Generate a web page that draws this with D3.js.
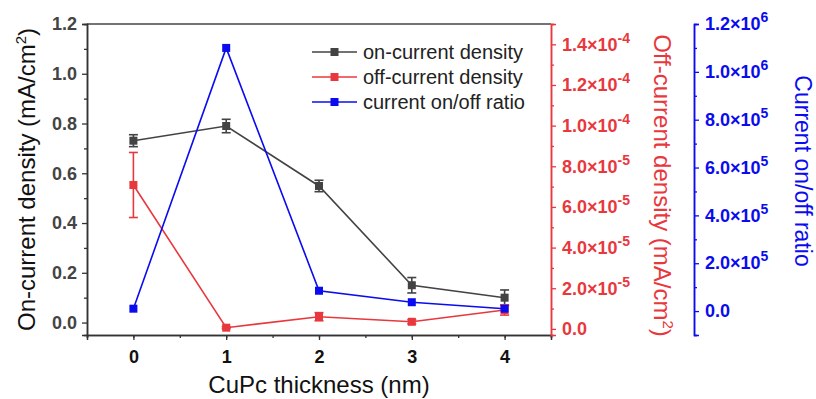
<!DOCTYPE html>
<html><head><meta charset="utf-8">
<script src="https://cdn.jsdelivr.net/npm/d3@7"></script>
<style>body{margin:0;background:#fff}svg{display:block}text{font-family:"Liberation Sans",Arial,sans-serif}</style>
</head><body><svg id="c" width="816" height="399"></svg>
<script>
const thickness = [0, 1, 2, 3, 4];
const onCurrent = [0.731, 0.790, 0.549, 0.150, 0.100];
const onErr = [0.024, 0.027, 0.023, 0.031, 0.031];
const offCurrent = [7.08e-5, 0.6e-6, 6.0e-6, 3.5e-6, 9.3e-6];
const offErr = [1.6e-5, 0.5e-6, 2.0e-6, 1.0e-6, 2.5e-6];
const ratio = [1.0e4, 1.1e6, 8.5e4, 3.7e4, 1.0e4];
const xTicks = [0, 1, 2, 3, 4];
const leftTicks = [0, 0.2, 0.4, 0.6, 0.8, 1.0, 1.2];
const redTicks = [0, 2e-5, 4e-5, 6e-5, 8e-5, 1e-4, 1.2e-4, 1.4e-4];
const blueTicks = [0, 2e5, 4e5, 6e5, 8e5, 1e6, 1.2e6];
const legendLabels = ["on-current density", "off-current density", "current on/off ratio"];

const C_ON = "#434343", C_OFF = "#e8383d", C_RATIO = "#0b0bf0";
const L = 87, R = 551, T = 24, B = 335, BLUE_X = 694;
const svg = d3.select("#c");
const x = d3.scaleLinear().domain([-0.5, 4.5]).range([L, R]);
const yL = d3.scaleLinear().domain([-0.05, 1.2]).range([B, T]);
const yR = d3.scaleLinear().domain([-3e-6, 1.5e-4]).range([B, T]);
const yB = d3.scaleLinear().domain([-1e5, 1.2e6]).range([B, T]);

function sci(v){
  if (v === 0) return null;
  const e = Math.floor(Math.log10(Math.abs(v)) + 1e-9);
  const m = v / Math.pow(10, e);
  return [m.toFixed(1), e];
}
function sciLabel(sel){
  sel.each(function(d){
    const t = d3.select(this).text(null);
    const s = sci(d);
    if (!s){ t.text("0.0"); return; }
    t.append("tspan").text(s[0] + "\u00d710");
    t.append("tspan").attr("dy", -8).attr("font-size", 14).text(s[1]);
  });
}

// frame top line
svg.append("line").attr("x1", L).attr("x2", R).attr("y1", T).attr("y2", T).attr("stroke", "#444").attr("stroke-width", 1.5);

// bottom axis
const gx = svg.append("g").attr("transform", `translate(0,${B})`);
gx.call(d3.axisBottom(x).tickValues(d3.range(-0.5, 4.6, 0.5)).tickSize(3).tickFormat(""));
gx.append("g").call(d3.axisBottom(x).tickValues(xTicks).tickSize(5).tickFormat(d3.format("d")));
gx.selectAll("path.domain").attr("stroke", "#333").attr("stroke-width", 1.5);
gx.selectAll("line").attr("stroke", "#333").attr("stroke-width", 1.3);
gx.selectAll("text").attr("font-size", 18).attr("font-weight", "bold").attr("fill", "#111").attr("dy", null).attr("y", 28);

// left axis
const gl = svg.append("g").attr("transform", `translate(${L},0)`);
gl.call(d3.axisLeft(yL).tickValues(d3.range(0.1, 1.2, 0.2)).tickSize(3).tickFormat(""));
gl.append("g").call(d3.axisLeft(yL).tickValues(leftTicks).tickSize(5).tickFormat(d3.format(".1f")));
gl.selectAll("path.domain").attr("stroke", "#333").attr("stroke-width", 1.5);
gl.selectAll("line").attr("stroke", "#333").attr("stroke-width", 1.3);
gl.selectAll("text").attr("font-size", 18).attr("font-weight", "bold").attr("fill", "#444").attr("x", -10);

// right red axis
const gr = svg.append("g").attr("transform", `translate(${R},0)`);
gr.call(d3.axisRight(yR).tickValues(d3.range(1e-5, 1.51e-4, 2e-5)).tickSize(3).tickFormat(""));
const grm = gr.append("g").call(d3.axisRight(yR).tickValues(redTicks).tickSize(5));
gr.selectAll("path.domain").attr("stroke", C_OFF).attr("stroke-width", 1.5);
gr.selectAll("line").attr("stroke", C_OFF).attr("stroke-width", 1.3);
grm.selectAll("text").attr("font-size", 18).attr("font-weight", "bold").attr("fill", C_OFF).attr("x", 11).call(sciLabel);

// blue axis
const gb = svg.append("g").attr("transform", `translate(${BLUE_X},0)`);
gb.call(d3.axisRight(yB).tickValues(d3.range(-1e5, 1.21e6, 2e5)).tickSize(3).tickFormat(""));
const gbm = gb.append("g").call(d3.axisRight(yB).tickValues(blueTicks).tickSize(5));
gb.selectAll("path.domain").attr("stroke", C_RATIO).attr("stroke-width", 1.5);
gb.selectAll("line").attr("stroke", C_RATIO).attr("stroke-width", 1.3);
gbm.selectAll("text").attr("font-size", 18).attr("font-weight", "bold").attr("fill", C_RATIO).attr("x", 11).call(sciLabel);

// axis titles
const lt = svg.append("text").attr("transform", `translate(35,${(T+B)/2}) rotate(-90)`).attr("text-anchor", "middle").attr("font-size", 24).attr("fill", "#111");
lt.append("tspan").text("On-current density (mA/cm");
lt.append("tspan").attr("dy", -9).attr("font-size", 15).text("2");
lt.append("tspan").attr("dy", 9).text(")");

const rt = svg.append("text").attr("transform", `translate(654,${(T+B)/2+6}) rotate(90)`).attr("text-anchor", "middle").attr("font-size", 24).attr("fill", C_OFF);
rt.append("tspan").text("Off-current density (mA/cm");
rt.append("tspan").attr("dy", -9).attr("font-size", 15).text("2");
rt.append("tspan").attr("dy", 9).text(")");

svg.append("text").attr("transform", `translate(795,171) rotate(90)`).attr("text-anchor", "middle").attr("font-size", 23).attr("fill", C_RATIO).text("Current on/off ratio");

svg.append("text").attr("x", (L+R)/2).attr("y", 393).attr("text-anchor", "middle").attr("font-size", 24).attr("fill", "#111").text("CuPc thickness (nm)");

// series
function series(vals, errs, y, color){
  const g = svg.append("g");
  g.append("path").datum(vals).attr("fill", "none").attr("stroke", color).attr("stroke-width", 1.6)
    .attr("d", d3.line().x((d,i)=>x(thickness[i])).y(d=>y(d)));
  if (errs){
    vals.forEach((v,i)=>{
      const cx = x(thickness[i]);
      const e = g.append("g").attr("stroke", color).attr("stroke-width", 1.6);
      e.append("line").attr("x1", cx).attr("x2", cx).attr("y1", y(v-errs[i])).attr("y2", y(v+errs[i]));
      e.append("line").attr("x1", cx-4.5).attr("x2", cx+4.5).attr("y1", y(v-errs[i])).attr("y2", y(v-errs[i]));
      e.append("line").attr("x1", cx-4.5).attr("x2", cx+4.5).attr("y1", y(v+errs[i])).attr("y2", y(v+errs[i]));
    });
  }
  g.selectAll("rect").data(vals).join("rect")
    .attr("x", (d,i)=>x(thickness[i])-4).attr("y", d=>y(d)-4).attr("width", 8).attr("height", 8)
    .attr("fill", color);
}
series(onCurrent, onErr, yL, C_ON);
series(offCurrent, offErr, yR, C_OFF);
series(ratio, null, yB, C_RATIO);

// legend
const colors = [C_ON, C_OFF, C_RATIO];
const lg = svg.append("g");
legendLabels.forEach((lab,i)=>{
  const yy = 52 + i*25;
  lg.append("line").attr("x1", 312).attr("x2", 357).attr("y1", yy).attr("y2", yy).attr("stroke", colors[i]).attr("stroke-width", 1.6);
  lg.append("rect").attr("x", 330.5).attr("y", yy-4).attr("width", 8).attr("height", 8).attr("fill", colors[i]);
  lg.append("text").attr("x", 363).attr("y", yy+7).attr("font-size", 20).attr("fill", "#222").text(lab);
});
</script></body></html>
